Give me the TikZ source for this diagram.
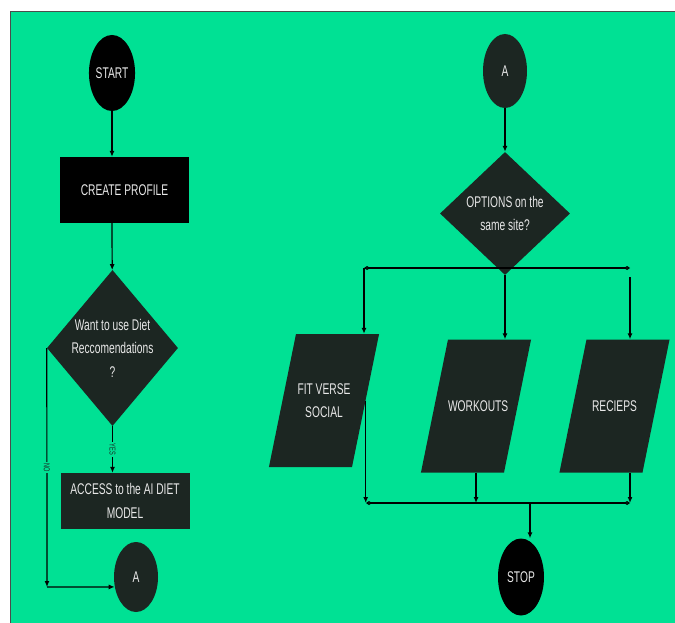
\documentclass[tikz,border=0pt]{standalone}
\usepackage{fontspec}
\setmainfont{Liberation Sans}[FakeStretch=0.66]
\usepackage{xcolor}
\usetikzlibrary{arrows.meta,positioning,shapes.geometric}
\definecolor{bggreen}{RGB}{0,225,148}
\definecolor{darkbox}{RGB}{28,38,34}
\definecolor{lighttext}{RGB}{232,232,232}
\newcommand{\iotext}[1]{\parbox[c][133pt][c]{56pt}{\centering #1}}

\begin{document}
\begin{tikzpicture}[
	x=1pt, y=-1pt,
	every node/.style={font=\fontsize{15.5}{23.5}\selectfont, text=lighttext},
	term/.style={ellipse, fill=#1, minimum width=44pt, minimum height=76pt, inner sep=0pt},
	term/.default=darkbox,
	box/.style={fill=#1, align=center, minimum width=129pt, minimum height=66pt, inner sep=0pt},
	box/.default=darkbox,
	decision/.style={diamond, fill=darkbox, minimum width=131pt, minimum height=156pt, inner sep=0pt},
	io/.style={trapezium, trapezium left angle=78.5, trapezium right angle=101.5, fill=darkbox, inner sep=0pt},
	arrow/.style={-{Latex[length=6pt,width=5pt]}, line width=1.2pt},
	branch/.style={{Diamond[open,length=6pt,width=4pt]}-{Diamond[open,length=6pt,width=4pt]}, line width=1.2pt},
	tag/.style={font=\fontsize{8.5}{9}\selectfont, text=darkbox, fill=bggreen, rotate=-90, inner sep=1.5pt}
	]
	
	\useasboundingbox (0,0) rectangle (675,623);
	\fill[bggreen] (10.5,11.5) rectangle (675,623);
	\draw[line width=1.5pt, black!70] (10.5,623) -- (10.5,11.5) -- (675,11.5);
	
	% left column
	\node[term=black] (start) at (112,73) {START};
	\node[box=black] (profile) at (124.5,190) {CREATE PROFILE};
	\node[decision] (diet) at (112.5,348) {};
	\node[align=center] at (diet) {Want to use Diet\\Reccomendations\\?};
	\node[box, minimum height=56pt] (access) at (125,501) {ACCESS to the AI DIET\\MODEL};
	\node[term, minimum height=70pt] (a1) at (136,577) {A};
	\coordinate (nocorner) at (47,587);
	
	% right column
	\node[term, minimum height=74pt] (a2) at (505,71) {A};
	\node[decision, minimum width=130pt, minimum height=123pt] (options) at (505,213.5) {};
	\node[align=center] at (options) {OPTIONS on the\\same site?};
	\coordinate (bl) at (364,268);
	\coordinate (br) at (630,268);
	\node[io] (fit) at (324,400.5) {\iotext{FIT VERSE\\SOCIAL}};
	\node[io] (work) at (476,406) {\iotext{WORKOUTS}};
	\node[io] (reci) at (614.5,406) {\iotext{RECIEPS}};
	\coordinate (cl) at (366,503);
	\coordinate (cr) at (630,503);
	\coordinate (cm) at (530,503);
	\node[term=black, minimum width=46pt, minimum height=77pt] (stop) at (521,577) {STOP};
	
	\draw[arrow] (start) -- (start |- profile.north);
	\draw[arrow] (start |- profile.south) -- (diet);
	\draw[arrow] (diet.south) -- node[tag] {YES} (diet.south |- access.north);
	\draw[arrow] (diet.west) -- node[tag] {NO} (nocorner);
	\draw[arrow] (nocorner) -- (a1.205);
	
	\draw[arrow] (a2) -- (options);
	\draw[branch] (bl) -- (br);
	\draw[arrow] (bl) -- (bl |- fit.north);
	\draw[arrow] (options.south) -- (options.south |- work.north);
	\draw[arrow, shorten <=9pt] (br) -- (br |- reci.north);
	\draw[branch] (cl) -- (cr);
	\draw[arrow] (fit.east) -- (fit.east |- cl);
	\draw[arrow] (work.south) -- (work.south |- cl);
	\draw[arrow] (cr |- reci.south) -- (cr);
	\draw[arrow] (cm) -- (cm |- stop.north);
	
\end{tikzpicture}
\end{document}
